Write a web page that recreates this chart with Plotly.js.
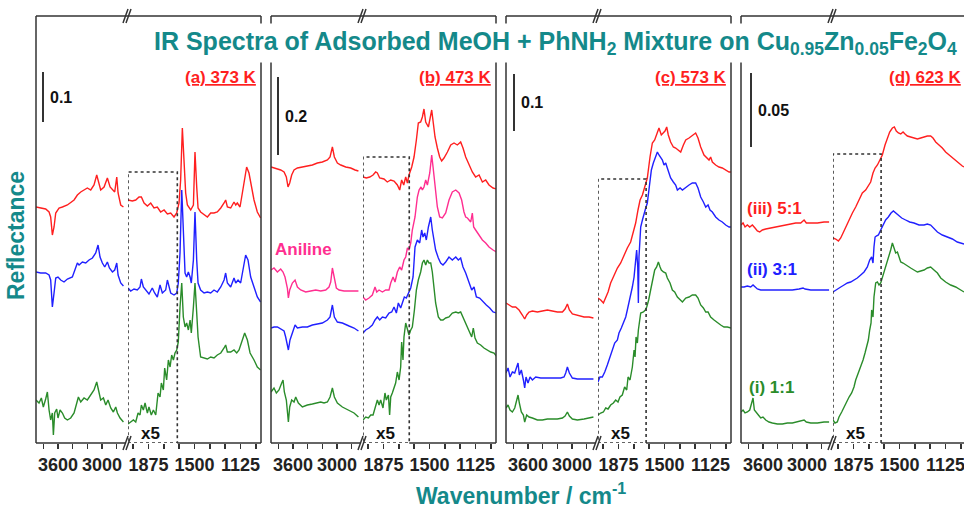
<!DOCTYPE html>
<html>
<head>
<meta charset="utf-8">
<script src="https://cdn.plot.ly/plotly-3.0.1.min.js"></script>
<style>html,body{margin:0;padding:0;overflow:hidden;background:#fff}#chart{width:968px;height:509px}</style>
</head>
<body>
<div id="chart"></div>
<script>
// ---------------- DATA (wavenumber / cm-1, signal in a.u.) ----------------
const panelLabels = ['(a) 373 K', '(b) 473 K', '(c) 573 K', '(d) 623 K'];
const scaleLabels = ['0.1', '0.2', '0.1', '0.05'];
const scaleLens = [50, 78, 57, 74];          // a.u. length of the scale bar
const x5Limits = [1640, 1665, 1650, 1650];   // end of the x5 region (cm-1)
const x5BoxTops = [271, 286, 264, 289];      // a.u.
const hiTicks = [3800, 3600, 3400, 3200, 3000, 2800];
const hiTickText = ['', '3600', '', '', '3000', ''];
const loTicks = [2000, 1875, 1750, 1625, 1500, 1375, 1250, 1125, 1000];
const loTickText = ['', '1875', '', '', '1500', '', '', '1125', ''];
const hiRange = [3900, 2673];
const loRange = [2042, 958];

// Panel (a) 373 K
const aRedX = [3900,3836,3768,3722,3700,3677,3654,3631,3586,3540,3472,3381,3336,3290,3245,3200,3154,3109,3072,3040,3018,2972,2927,2890,2858,2827,2799,2781,2745,2708,
  2042,2007,1979,1952,1933,1911,1884,1857,1830,1803,1776,1748,1721,1694,1667,1645,1626,1613,1599,1585,1572,1558,1545,1531,1509,1496,1482,1471,1450,1422,1395,1368,1341,1314,1286,1259,1246,1232,1205,1178,1164,1151,1129,1110,1091,1075,1056,1037,1015,988,961];
const aRedY = [236,235,234,231,226,208,216,230,235,236,238,243,248,251,253,255,253,258,268,260,253,256,265,256,253,251,266,250,238,236,
  243,242,243,246,246,240,237,240,235,236,231,233,229,230,226,230,240,263,315,273,250,238,235,233,238,291,256,235,231,228,226,230,230,231,235,240,243,236,235,241,238,240,236,250,266,276,270,256,243,231,225];
const aBlueX = [3900,3836,3768,3722,3700,3677,3654,3631,3600,3563,3518,3472,3404,3359,3336,3313,3268,3222,3177,3131,3086,3054,3027,2995,2963,2927,2899,2858,2827,2799,2781,2745,2708,
  2042,2020,1993,1966,1944,1933,1917,1898,1871,1844,1825,1803,1781,1762,1735,1721,1708,1694,1667,1645,1632,1618,1604,1591,1577,1564,1550,1536,1526,1509,1496,1482,1471,1450,1422,1395,1368,1341,1314,1286,1259,1246,1232,1205,1178,1164,1145,1124,1102,1083,1064,1042,1015,988,961];
const aBlueY = [171,170,170,168,163,136,150,165,166,163,161,164,166,176,180,178,181,180,183,185,190,198,186,180,176,181,175,171,173,180,168,160,157,
  155,152,154,153,156,164,156,153,149,155,150,146,158,150,153,163,155,150,148,150,160,190,253,206,170,166,171,166,160,183,231,183,160,153,150,151,150,153,151,156,163,170,160,156,165,160,163,160,176,188,183,166,156,146,141];
const aGreenX = [3900,3859,3827,3800,3768,3745,3722,3700,3677,3663,3645,3618,3600,3572,3540,3509,3472,3427,3381,3345,3322,3290,3245,3200,3154,3109,3072,3040,3018,2981,2949,2918,2881,2845,2813,2790,2754,2708,
  2042,2020,1998,1979,1960,1944,1933,1917,1903,1884,1871,1852,1835,1816,1797,1781,1770,1754,1743,1727,1713,1699,1686,1672,1659,1645,1632,1618,1604,1591,1577,1564,1550,1536,1526,1509,1496,1482,1471,1450,1422,1395,1368,1341,1314,1286,1259,1246,1232,1205,1178,1156,1137,1110,1091,1069,1047,1015,988,961];
const aGreenY = [43,40,45,36,44,51,33,23,30,8,30,34,25,33,30,25,23,25,30,40,46,41,45,43,48,53,61,50,43,45,38,43,35,31,36,30,25,21,
  19,21,23,21,30,28,38,33,40,30,36,28,33,28,50,46,60,53,75,63,83,76,88,83,90,93,101,136,160,126,116,120,113,123,110,136,160,130,106,86,85,84,86,85,88,90,95,98,91,91,93,90,93,103,110,103,90,83,76,73];

// Panel (b) 473 K
const bRedX = [3900,3859,3813,3768,3722,3691,3668,3645,3618,3586,3540,3472,3404,3336,3268,3200,3131,3095,3063,3036,2995,2949,2881,2813,2754,2708,
  2042,2015,1987,1960,1939,1925,1906,1871,1844,1816,1789,1762,1743,1727,1710,1694,1680,1667,1645,1626,1607,1591,1572,1558,1545,1531,1509,1496,1482,1469,1455,1436,1417,1401,1382,1354,1327,1300,1273,1246,1227,1205,1178,1151,1124,1096,1069,1042,1015,982,955];
const bRedY = [276,275,274,273,271,266,256,260,268,273,275,276,277,278,280,281,283,286,296,286,280,278,276,275,273,272,
  266,265,266,268,271,270,265,264,261,263,262,258,253,263,258,266,260,268,276,286,303,320,321,326,334,321,316,323,333,320,306,295,286,282,285,291,298,300,298,301,295,286,278,271,266,268,261,263,258,255,254];
const bPinkX = [3900,3859,3813,3768,3736,3709,3677,3663,3645,3609,3572,3540,3495,3427,3359,3290,3222,3154,3109,3086,3063,3036,3009,2972,2904,2813,2708,
  2042,2020,1993,1966,1944,1930,1911,1884,1857,1830,1816,1797,1781,1762,1743,1727,1708,1694,1680,1667,1653,1640,1618,1599,1585,1569,1558,1545,1531,1517,1498,1482,1471,1455,1436,1417,1395,1368,1341,1314,1286,1259,1238,1219,1205,1191,1164,1151,1140,1124,1096,1069,1042,1015,982,955];
const bPinkY = [173,175,171,174,171,166,155,145,153,160,163,156,153,151,152,153,152,153,156,161,175,163,155,153,152,152,152,
  146,143,145,148,156,151,153,151,153,153,160,166,161,171,176,173,183,186,195,193,200,213,226,246,253,256,253,256,263,258,270,288,276,256,236,226,225,230,243,251,253,250,243,231,226,225,221,230,216,213,208,203,200,196,193,191];
const bBlueX = [3900,3859,3813,3768,3722,3700,3677,3663,3641,3609,3572,3540,3472,3404,3336,3268,3200,3131,3095,3063,3036,2995,2927,2836,2768,2708,
  2042,2020,1993,1966,1944,1925,1906,1884,1857,1830,1808,1789,1770,1754,1735,1721,1705,1689,1672,1653,1634,1618,1599,1580,1564,1553,1539,1526,1509,1490,1477,1463,1450,1428,1409,1390,1368,1341,1314,1286,1265,1246,1227,1205,1178,1156,1137,1118,1091,1064,1037,1009,982,955];
const bBlueY = [115,116,116,114,112,106,96,93,103,111,118,115,116,116,118,119,120,123,126,138,126,121,120,117,115,112,
  110,113,115,118,123,126,123,126,125,130,131,136,130,140,135,141,146,145,150,155,166,196,203,200,213,206,210,203,216,226,213,203,193,185,180,178,181,186,183,186,183,185,176,170,161,153,156,146,145,141,138,135,131,130];
const bGreenX = [3900,3859,3827,3791,3754,3736,3718,3691,3663,3645,3618,3586,3563,3527,3472,3404,3336,3268,3222,3177,3131,3095,3063,3036,2995,2927,2836,2768,2708,
  2042,2020,1998,1979,1960,1944,1925,1911,1898,1879,1863,1852,1835,1825,1816,1803,1789,1776,1762,1748,1735,1727,1716,1708,1694,1680,1667,1653,1640,1623,1607,1591,1572,1558,1545,1531,1517,1504,1490,1477,1463,1450,1428,1409,1390,1368,1341,1314,1286,1265,1246,1227,1205,1178,1156,1143,1129,1110,1083,1056,1029,1001,974,955];
const bGreenY = [51,55,50,53,60,63,51,43,21,36,43,41,46,40,36,38,39,40,41,40,41,46,55,46,40,36,33,30,26,
  23,26,25,28,28,36,43,38,43,35,50,43,48,28,46,50,56,60,71,63,76,101,83,106,120,113,108,113,116,133,153,163,171,180,183,178,183,180,180,171,156,140,126,123,123,125,126,130,131,130,131,126,120,113,106,115,105,100,98,95,93,91,90,87];

// Panel (c) 573 K
const cRedX = [3900,3859,3813,3768,3722,3677,3645,3618,3586,3540,3472,3404,3336,3268,3200,3131,3095,3063,3036,2995,2927,2836,2768,2708,
  2042,2020,1998,1979,1960,1939,1911,1884,1857,1830,1803,1776,1754,1735,1716,1699,1680,1661,1640,1618,1599,1580,1564,1545,1526,1509,1496,1482,1469,1450,1428,1409,1390,1368,1346,1327,1300,1273,1246,1227,1205,1178,1156,1137,1124,1110,1083,1056,1029,1001,974,955];
const cRedY = [140,138,136,136,133,128,124,128,131,132,131,132,133,132,131,131,134,139,133,129,128,126,126,125,
  145,143,140,145,151,160,168,175,180,188,195,201,210,220,233,243,248,256,265,286,300,303,308,315,308,311,312,316,308,301,296,295,293,291,298,303,305,308,310,305,296,288,285,283,286,281,278,276,275,273,271,271];
const cBlueX = [3900,3872,3845,3813,3781,3754,3736,3718,3691,3663,3645,3627,3600,3572,3540,3495,3427,3359,3290,3222,3154,3109,3086,3063,3036,2995,2927,2836,2768,2708,
  2042,2026,2007,1987,1966,1944,1925,1906,1884,1871,1852,1835,1816,1803,1789,1776,1762,1748,1735,1727,1718,1713,1708,1694,1680,1667,1653,1640,1623,1607,1591,1572,1558,1545,1531,1517,1504,1490,1477,1463,1450,1428,1409,1395,1373,1354,1327,1300,1273,1246,1227,1205,1183,1164,1145,1129,1110,1083,1056,1029,1001,974,955];
const cBlueY = [70,75,66,71,70,76,80,68,73,63,55,66,60,66,63,66,65,65,65,65,65,66,70,76,70,65,64,64,64,64,
  61,66,66,71,78,86,93,100,103,110,115,120,126,133,140,146,156,166,180,193,176,140,186,216,223,230,235,240,258,273,280,286,291,288,286,283,278,280,275,270,265,261,258,253,255,253,256,258,260,260,255,246,241,236,238,233,231,226,223,221,218,216,216];
const cGreenX = [3900,3872,3845,3813,3781,3754,3736,3718,3691,3663,3645,3618,3586,3540,3472,3404,3336,3268,3200,3131,3095,3063,3036,2995,2927,2836,2768,2708,
  2042,2020,1998,1979,1960,1939,1917,1898,1879,1863,1844,1825,1808,1797,1781,1762,1748,1740,1732,1721,1713,1705,1694,1672,1656,1645,1629,1613,1596,1580,1564,1550,1536,1526,1509,1490,1477,1455,1436,1417,1395,1373,1354,1327,1300,1273,1246,1227,1205,1183,1164,1145,1124,1096,1069,1042,1015,988,955];
const cGreenY = [35,38,33,31,35,43,48,40,31,28,21,28,26,25,23,23,24,24,24,25,27,31,27,24,23,24,25,26,
  28,30,31,35,34,38,40,43,41,46,48,56,53,66,63,76,93,86,106,100,113,120,130,131,133,136,143,153,163,173,176,181,176,173,171,170,165,160,153,151,146,143,141,145,146,148,148,145,138,135,131,131,126,123,120,118,116,116,115];

// Panel (d) 623 K
const dRedX = [3900,3872,3845,3813,3781,3745,3709,3677,3645,3609,3563,3495,3427,3359,3290,3222,3154,3086,3040,3009,2949,2858,2768,2699,
  2042,2020,1998,1979,1960,1939,1911,1884,1857,1830,1803,1776,1754,1735,1716,1699,1680,1661,1640,1618,1599,1580,1558,1542,1526,1509,1490,1471,1455,1436,1409,1382,1354,1327,1300,1273,1246,1227,1205,1178,1151,1124,1096,1069,1042,1015,988,974];
const dRedY = [218,220,216,218,216,218,215,212,211,213,214,215,216,217,218,219,220,220,223,220,220,220,221,221,
  205,204,202,205,210,216,223,230,236,243,250,253,258,261,270,275,278,283,288,298,305,311,315,316,312,310,309,311,309,307,306,305,304,305,306,307,307,305,301,298,295,291,288,286,283,280,277,276];
const dBlueX = [3900,3859,3813,3768,3736,3709,3677,3631,3563,3472,3381,3290,3200,3109,3054,3027,2949,2836,2699,
  2042,2020,1998,1979,1952,1925,1898,1871,1844,1816,1789,1762,1743,1727,1716,1708,1699,1689,1672,1653,1634,1613,1591,1569,1550,1531,1509,1482,1450,1417,1382,1341,1300,1273,1246,1219,1191,1151,1110,1069,1029,993,974];
const dBlueY = [156,156,157,156,158,156,154,153,153,153,153,153,153,154,155,154,153,153,153,
  151,153,155,156,158,160,161,163,165,168,171,176,183,186,180,196,206,207,208,213,218,223,226,230,232,230,227,225,223,221,220,218,218,219,218,215,211,208,206,204,201,200,199];
const dGreenX = [3900,3872,3845,3813,3781,3754,3736,3718,3691,3663,3631,3600,3563,3518,3472,3404,3336,3268,3200,3131,3086,3040,3009,2949,2858,2768,2699,
  2042,2026,2007,1993,1971,1952,1933,1911,1890,1871,1857,1835,1816,1797,1781,1767,1754,1743,1732,1727,1716,1708,1694,1680,1667,1653,1640,1623,1607,1591,1572,1558,1545,1531,1517,1504,1490,1471,1450,1428,1409,1382,1354,1327,1300,1273,1246,1219,1191,1164,1124,1083,1042,1001,974];
const dGreenY = [31,33,30,31,33,40,45,33,30,28,25,26,23,21,20,19,19,20,20,21,22,23,21,20,20,21,21,
  23,20,21,26,31,36,41,46,50,56,63,70,76,83,90,96,103,113,120,133,126,146,160,161,158,160,165,173,180,186,193,200,196,190,191,185,181,180,178,176,175,173,171,172,173,175,176,173,170,165,161,158,156,153,151];

const seriesLabels = [
  {panel: 3, text: '(iii) 5:1', color: 'red'},
  {panel: 3, text: '(ii) 3:1', color: 'blue'},
  {panel: 3, text: '(i) 1:1', color: 'green'},
  {panel: 1, text: 'Aniline', color: 'pink'}
];

// ---------------- STYLE / LAYOUT ----------------
const COL = {red: '#ff1f1f', blue: '#2020ff', green: '#2a8c2a', pink: '#ff2e90'};
const TEAL = '#14898a';
const FONT = 'Liberation Sans, Arial, Helvetica, sans-serif';
const W = 968, H = 509, MT = 16, MB = 66;
const PH = H - MT - MB;
const panelLeft = [36, 271, 506, 741];
const segHiW = 90, segLoStart = 92, panelW = 225;
const xp = p => p / W;
const yp = p => (H - MB - p) / PH;   // pixel y -> paper

const series = [
  [0, aRedX, aRedY, 'red'], [0, aBlueX, aBlueY, 'blue'], [0, aGreenX, aGreenY, 'green'],
  [1, bRedX, bRedY, 'red'], [1, bPinkX, bPinkY, 'pink'], [1, bBlueX, bBlueY, 'blue'], [1, bGreenX, bGreenY, 'green'],
  [2, cRedX, cRedY, 'red'], [2, cBlueX, cBlueY, 'blue'], [2, cGreenX, cGreenY, 'green'],
  [3, dRedX, dRedY, 'red'], [3, dBlueX, dBlueY, 'blue'], [3, dGreenX, dGreenY, 'green']
];

const axName = (p, n) => p + (n === 1 ? '' : n);
const layout = {
  width: W, height: H, margin: {l: 0, r: 0, t: MT, b: MB},
  paper_bgcolor: '#fff', plot_bgcolor: 'rgba(0,0,0,0)', showlegend: false,
  shapes: [], annotations: []
};
const tickStyle = {
  ticks: 'outside', ticklen: 5, tickwidth: 1.5, tickcolor: '#333',
  showgrid: false, zeroline: false, showline: false, fixedrange: true,
  tickfont: {family: FONT, size: 18, color: '#222', weight: 'bold'}, tickmode: 'array'
};
const traces = [];
const line = (x0, y0, x1, y1, extra) => Object.assign({type: 'line', xref: 'paper', yref: 'paper', x0, y0, x1, y1,
  line: {color: '#333', width: 1.5}}, extra || {});

panelLeft.forEach((L, i) => {
  const xh = 2 * i + 1, xl = 2 * i + 2, yi = i + 1;
  layout[axName('xaxis', xh)] = Object.assign({}, tickStyle, {
    domain: [xp(L), xp(L + segHiW)], range: hiRange, anchor: axName('y', yi),
    tickvals: hiTicks, ticktext: hiTickText});
  layout[axName('xaxis', xl)] = Object.assign({}, tickStyle, {
    domain: [xp(L + segLoStart), xp(L + panelW)], range: loRange, anchor: axName('y', yi),
    tickvals: loTicks, ticktext: loTickText});
  layout[axName('yaxis', yi)] = {domain: [0, 1], range: [0, PH], anchor: axName('x', xh), visible: false, fixedrange: true};

  // frame
  layout.shapes.push(line(xp(L), 1, xp(L + panelW), 1));
  layout.shapes.push(line(xp(L), 0, xp(L), 1));
  layout.shapes.push(line(xp(L + panelW), 0, xp(L + panelW), 1));
  layout.shapes.push({type: 'line', xref: axName('x', xh) + ' domain', yref: 'paper', x0: 0, x1: 1, y0: 0, y1: 0, line: {color: '#333', width: 1.5}});
  layout.shapes.push({type: 'line', xref: axName('x', xl), yref: 'paper', x0: x5Limits[i], x1: loRange[1], y0: 0, y1: 0, line: {color: '#333', width: 1.5}});
  // break marks
  [0, 3].forEach(dx => {
    layout.shapes.push(line(xp(L + 87 + dx), yp(450), xp(L + 92 + dx), yp(436)));
    layout.shapes.push(line(xp(L + 87 + dx), yp(23), xp(L + 92 + dx), yp(9)));
  });
  // x5 dotted box
  layout.shapes.push({type: 'rect', xref: axName('x', xl), yref: axName('y', yi),
    x0: loRange[0], x1: x5Limits[i], y0: 0, y1: x5BoxTops[i],
    line: {color: '#333', width: 1.6, dash: 'dot'}, fillcolor: 'rgba(0,0,0,0)'});
  // scale bar
  const barTop = [371, 366, 369, 370][i];
  const barX = L + [7, 7, 8, 10][i];
  layout.shapes.push({type: 'line', xref: 'paper', yref: axName('y', yi), x0: xp(barX), x1: xp(barX),
    y0: barTop - scaleLens[i], y1: barTop, line: {color: '#333', width: 2}});
  layout.annotations.push({xref: 'paper', yref: axName('y', yi), x: xp(barX + 5), y: barTop - scaleLens[i] / 2,
    text: '<b>' + scaleLabels[i] + '</b>', showarrow: false, xanchor: 'left', yanchor: 'middle',
    font: {family: FONT, size: 16, color: '#111'}});
  // panel label
  layout.annotations.push({xref: 'paper', yref: 'paper', x: xp(L + 223), y: yp(77),
    text: '<b><u>' + panelLabels[i] + '</u></b>', showarrow: false, xanchor: 'right', yanchor: 'middle',
    font: {family: FONT, size: 17, color: COL.red}});
  // x5
  layout.annotations.push({xref: 'paper', yref: 'paper', x: xp(L + 114), y: yp(433),
    text: '<b>x5</b>', showarrow: false, xanchor: 'center', yanchor: 'middle',
    font: {family: FONT, size: 17, color: '#111'}});
});

series.forEach(([pi, X, Y, c]) => {
  const hi = {x: [], y: []}, lo = {x: [], y: []};
  X.forEach((w, k) => { const s = w > 2400 ? hi : lo; s.x.push(w); s.y.push(Y[k]); });
  [[hi, 2 * pi + 1], [lo, 2 * pi + 2]].forEach(([s, ax]) => {
    traces.push({type: 'scatter', mode: 'lines', x: s.x, y: s.y,
      xaxis: axName('x', ax), yaxis: axName('y', pi + 1),
      line: {color: COL[c], width: 1.4}, hoverinfo: 'skip'});
  });
});

// series labels
const labelPos = {'(iii) 5:1': [745, 209], '(ii) 3:1': [745, 269], '(i) 1:1': [747, 387], 'Aniline': [273, 250]};
seriesLabels.forEach(s => {
  const [lx, ly] = labelPos[s.text];
  layout.annotations.push({xref: 'paper', yref: 'paper', x: xp(lx), y: yp(ly), text: '<b>' + s.text + '</b>',
    showarrow: false, xanchor: 'left', yanchor: 'middle', font: {family: FONT, size: 17, color: COL[s.color]}});
});

// titles
layout.annotations.push({xref: 'paper', yref: 'paper', x: xp(150), y: yp(43), xanchor: 'left', yanchor: 'middle',
  text: '<b>IR Spectra of Adsorbed MeOH + PhNH<sub>2</sub> Mixture on Cu<sub>0.95</sub>Zn<sub>0.05</sub>Fe<sub>2</sub>O<sub>4</sub></b>',
  showarrow: false, bgcolor: '#fff', borderpad: 3, font: {family: FONT, size: 25, color: TEAL}});
layout.annotations.push({xref: 'paper', yref: 'paper', x: xp(521), y: yp(494), xanchor: 'center', yanchor: 'middle',
  text: '<b>Wavenumber / cm<sup>-1</sup></b>', showarrow: false, font: {family: FONT, size: 23, color: TEAL}});
layout.annotations.push({xref: 'paper', yref: 'paper', x: xp(16), y: yp(236), xanchor: 'center', yanchor: 'middle',
  text: '<b>Reflectance</b>', textangle: -90, showarrow: false, font: {family: FONT, size: 23, color: TEAL}});

Plotly.newPlot('chart', traces, layout, {displayModeBar: false, staticPlot: true});
</script>
</body>
</html>
